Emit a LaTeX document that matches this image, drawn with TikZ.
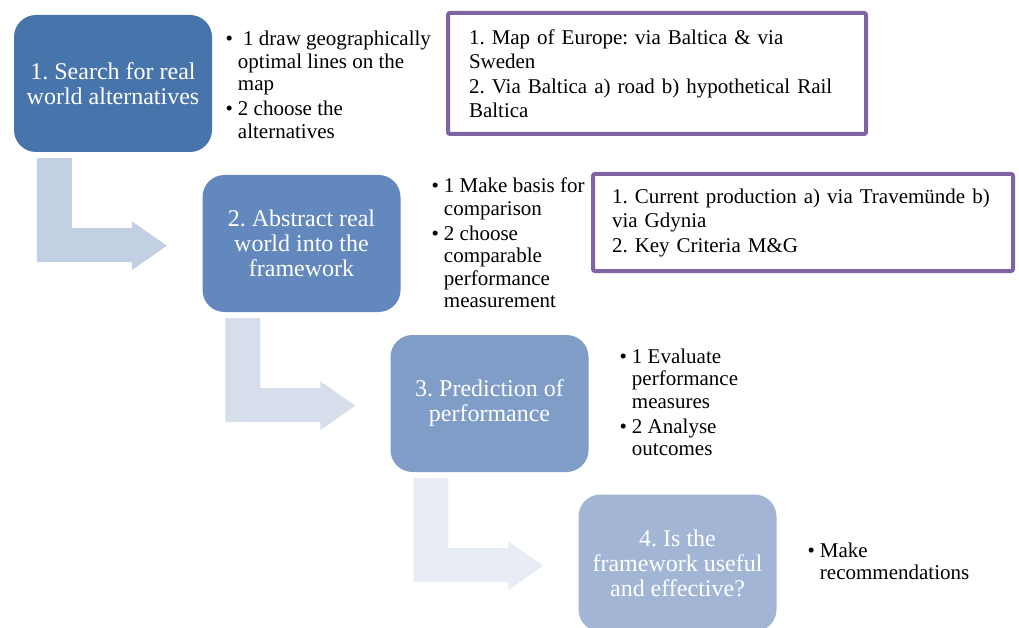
\documentclass[tikz,border=0pt]{standalone}
\usepackage{fontspec}
\setmainfont{Liberation Serif}
\usetikzlibrary{calc}
\definecolor{boxA}{RGB}{71,116,171}
\definecolor{boxB}{RGB}{99,136,190}
\definecolor{boxC}{RGB}{128,157,200}
\definecolor{boxD}{RGB}{162,181,213}
\definecolor{arrA}{RGB}{195,207,227}
\definecolor{arrB}{RGB}{214,222,235}
\definecolor{arrC}{RGB}{232,237,245}
\definecolor{purp}{RGB}{128,100,162}
\begin{document}
\frenchspacing
\begin{tikzpicture}[x=1pt,y=-1pt,
  stepbox/.style={rounded corners=22pt, minimum width=198pt, minimum height=137pt,
    inner sep=0pt, align=center, text=white, font=\fontsize{24}{25}\selectfont},
  bultext/.style={anchor=base west, inner sep=0pt, font=\fontsize{21}{22.5}\selectfont},
  notebox/.style={draw=purp, line width=4pt, rounded corners=2pt, fill=white,
    align=left, inner ysep=0pt, font=\fontsize{21}{24.5}\selectfont}
]
\useasboundingbox (0,0) rectangle (1019,628);

% step boxes
\node[stepbox, fill=boxA] (s1) at (113,83.5) {1. Search for real\\world alternatives};
\node[stepbox, fill=boxB] (s2) at (301.5,243.5) {2. Abstract real\\world into the\\framework};
\node[stepbox, fill=boxC] (s3) at (489.5,403.5) {3. Prediction of\\performance};
\node[stepbox, fill=boxD] (s4) at (677.5,563) {4. Is the\\framework useful\\and effective?};

% bent arrows
\fill[arrA] ($(s1.south west)+(23,6)$) -- ++(35,0) -- ++(0,70) -- ++(60,0) -- ++(0,-7)
  -- ++(35,24.5) -- ++(-35,24.5) -- ++(0,-8) -- ++(-95,0) -- cycle;
\fill[arrB] ($(s2.south west)+(23,6)$) -- ++(35,0) -- ++(0,70) -- ++(60,0) -- ++(0,-7)
  -- ++(35,24.5) -- ++(-35,24.5) -- ++(0,-8) -- ++(-95,0) -- cycle;
\fill[arrC] ($(s3.south west)+(23,6)$) -- ++(35,0) -- ++(0,70) -- ++(60,0) -- ++(0,-7)
  -- ++(35,24.5) -- ++(-35,24.5) -- ++(0,-8) -- ++(-95,0) -- cycle;

% bullet texts
\node[bultext] (b1) at (225.5,46) {\begin{tabular}[t]{@{}l@{\hspace{4.9pt}}l@{}}
\textbullet & \ 1 draw geographically\\
 & optimal lines on the\\
 & map\\[2.5pt]
\textbullet & 2 choose the\\
 & alternatives
\end{tabular}};
\node[bultext] (b2) at (431.5,193) {\begin{tabular}[t]{@{}l@{\hspace{4.9pt}}l@{}}
\textbullet & 1 Make basis for\\
 & comparison\\[2.5pt]
\textbullet & 2 choose\\
 & comparable\\
 & performance\\
 & measurement
\end{tabular}};
\node[bultext] (b3) at (619.5,363) {\begin{tabular}[t]{@{}l@{\hspace{4.9pt}}l@{}}
\textbullet & 1 Evaluate\\
 & performance\\
 & measures\\[2.5pt]
\textbullet & 2 Analyse\\
 & outcomes
\end{tabular}};
\node[bultext] (b4) at (807.5,557) {\begin{tabular}[t]{@{}l@{\hspace{4.9pt}}l@{}}
\textbullet & Make\\
 & recommendations
\end{tabular}};

% note boxes
\node[notebox, inner xsep=21pt, text width=376pt, minimum height=121pt] (n1) at (657,73.5)
  {1. Map of Europe: via Baltica \& via\\Sweden\\2. Via Baltica a) road b) hypothetical Rail\\Baltica};
\node[notebox, inner xsep=19pt, text width=382pt, minimum height=97pt] (n2) at (803,222.5)
  {1. Current production a) via Travemünde b)\\via Gdynia\\2. Key Criteria M\&G};
\end{tikzpicture}
\end{document}
